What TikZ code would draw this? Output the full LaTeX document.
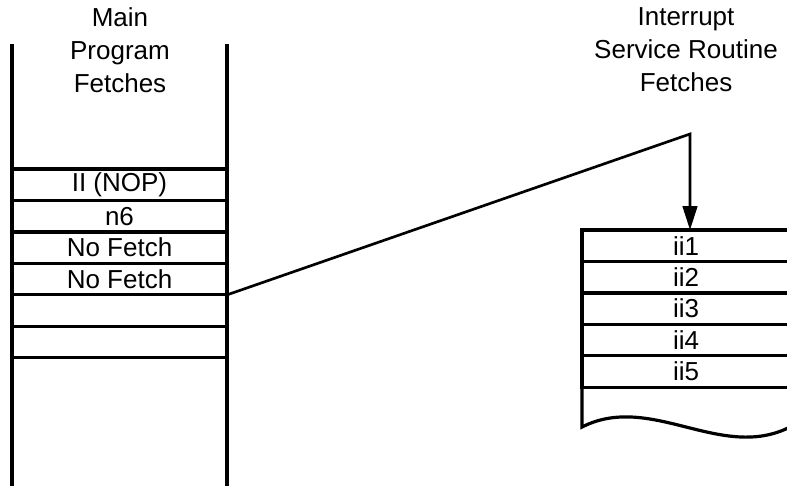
\documentclass[tikz,border=0pt]{standalone}
\usepackage{fontspec}
\setmainfont{Liberation Sans}
\usetikzlibrary{arrows.meta,positioning}

\begin{document}
\begin{tikzpicture}[x=0.75pt, y=-0.75pt, line width=2.4pt,
    font=\fontsize{19.5}{24.75}\selectfont,
    cell/.style={draw, outer sep=0pt, inner sep=0pt, minimum height=23.6pt},
    mcell/.style={cell, minimum width=161.25pt},
    icell/.style={cell, minimum width=156pt},
    head/.style={align=center}]
            % frame
            \clip (0,0) rectangle (787,485);
            % headings
            \node[head] (mainhead) at (120,50) {Main\\Program\\Fetches};
            \node[head] (isrhead) at (686,50) {Interrupt\\Service Routine\\Fetches};
            % main program fetches
            \path[draw](12,44)to(12,490);
            \path[draw](227,44)to(227,490);
            \node[mcell, anchor=north west] (m1) at (12,169) {II (NOP)};
            \node[mcell, below=0pt of m1] (m2) {n6};
            \node[mcell, below=0pt of m2] (m3) {No Fetch};
            \node[mcell, below=0pt of m3] (m4) {No Fetch};
            \node[mcell, below=0pt of m4] (m5) {};
            \node[mcell, below=0pt of m5] (m6) {};
            % interrupt service routine fetches
            \node[icell, anchor=north west] (i1) at (582,230) {ii1};
            \node[icell, below=0pt of i1] (i2) {ii2};
            \node[icell, below=0pt of i2] (i3) {ii3};
            \node[icell, below=0pt of i3] (i4) {ii4};
            \node[icell, below=0pt of i4] (i5) {ii5};
            \coordinate (wave) at (582,427);
            \path[draw](i5.south west)to(wave) .. controls (651,392) and (721,462) .. (790,427);
            % jump to the routine
            \coordinate (turn) at (690,134);
            \path[draw, line width=2pt, -{Triangle[length=18pt, width=11pt]}](m4.south east)--(turn)--(i1.north -| turn);
        \end{tikzpicture}
\end{document}
